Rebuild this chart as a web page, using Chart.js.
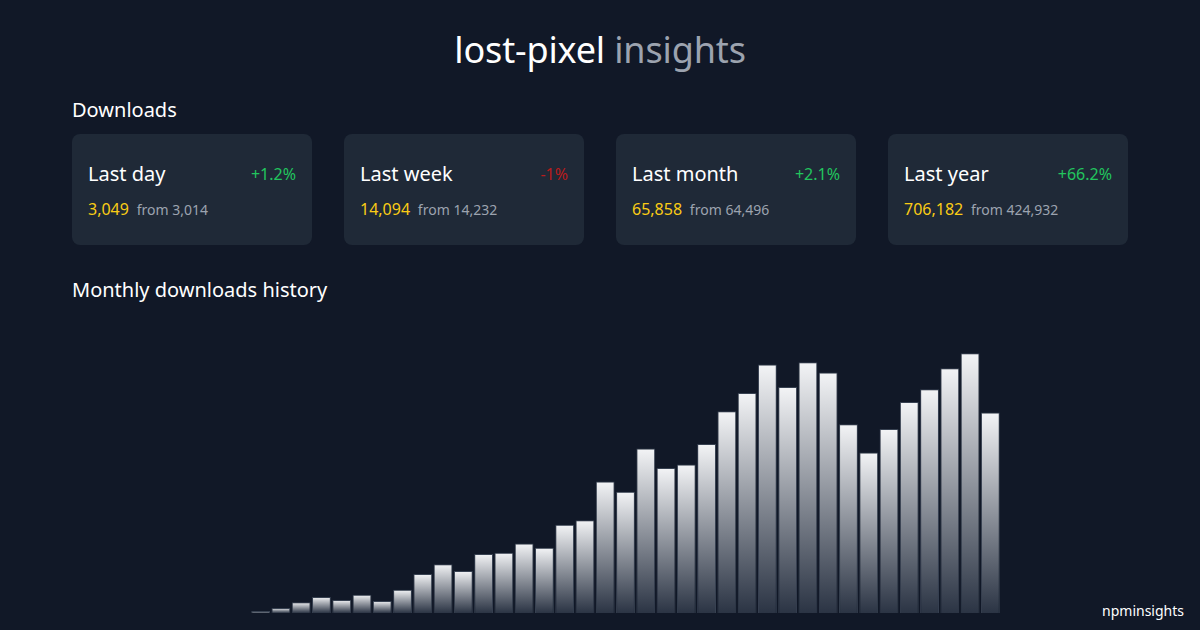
<!DOCTYPE html>
<html>
<head>
<meta charset="utf-8">
<script src="https://cdn.jsdelivr.net/npm/chart.js@4"></script>
<style>
  html, body { margin: 0; width: 1200px; height: 630px; overflow: hidden; background: #111827; font-family: "Noto Sans", sans-serif; color: #fff; }
  .abs { position: absolute; white-space: nowrap; }
  .title { left: 0; width: 1200px; top: 25px; text-align: center; font-size: 36px; line-height: 50px; letter-spacing: -0.15px; }
  .title span { color: #9ca3af; }
  .section { left: 72px; font-size: 20px; line-height: 28px; }
  .card { position: absolute; top: 134px; width: 240px; height: 111px; background: #1f2937; border-radius: 8px; }
  .card .name { position: absolute; left: 16px; top: 26px; font-size: 20px; line-height: 28px; }
  .card .pct { position: absolute; right: 16px; top: 29px; font-size: 16px; line-height: 22px; }
  .card .now { position: absolute; left: 16px; top: 64px; font-size: 16px; line-height: 22px; color: #facc15; }
  .card .prev { font-size: 14px; color: #9ca3af; }
  .up { color: #22c55e; }
  .down { color: #b91c1c; }
  #wrap { position: absolute; left: 250px; top: 339px; width: 751px; height: 274px; }
  .brand { right: 16px; top: 601px; font-size: 14px; line-height: 20px; }
</style>
</head>
<body>
<div class="abs title">lost-pixel <span>insights</span></div>
<div class="abs section" style="top:96px">Downloads</div>
<div id="cards"></div>
<div class="abs section" style="top:276px">Monthly downloads history</div>
<div id="wrap"><canvas id="historyChart"></canvas></div>
<div class="abs brand">npminsights</div>
<script>
  const cards = [
    { name: "Last day", pct: "+1.2%", now: "3,049", prev: "3,014", left: 72 },
    { name: "Last week", pct: "-1%", now: "14,094", prev: "14,232", left: 344 },
    { name: "Last month", pct: "+2.1%", now: "65,858", prev: "64,496", left: 616 },
    { name: "Last year", pct: "+66.2%", now: "706,182", prev: "424,932", left: 888 }
  ];
  document.getElementById("cards").innerHTML = cards.map(c => `
    <div class="card" style="left:${c.left}px">
      <div class="name">${c.name}</div>
      <div class="pct ${c.pct[0] === "+" ? "up" : "down"}">${c.pct}</div>
      <div class="now">${c.now} <span class="prev">&nbsp;from ${c.prev}</span></div>
    </div>`).join("");

  // Monthly downloads
  const monthly = [
    650, 1650, 3500, 5250, 4250, 6000, 3950, 7600, 12800, 16000,
    13800, 19400, 19800, 22800, 21400, 29000, 30500, 43200, 39800, 54000,
    47600, 48800, 55500, 66300, 72300, 81600, 74200, 82400, 79000, 62000,
    52700, 60400, 69300, 73500, 80400, 85300, 65858
  ];

  function barGradient(ctx) {
    const { chart, parsed } = ctx;
    if (!parsed || !chart.chartArea) return "#e5e7eb";
    const yScale = chart.scales.y;
    const g = chart.ctx.createLinearGradient(0, yScale.getPixelForValue(parsed.y), 0, yScale.bottom);
    g.addColorStop(0, "#f3f4f6");
    g.addColorStop(1, "#2b3444");
    return g;
  }

  new Chart(document.getElementById("historyChart"), {
    type: "bar",
    data: {
      labels: monthly.map((_, i) => i + 1),
      datasets: [{
        data: monthly,
        backgroundColor: barGradient,
        borderColor: "#374151",
        borderWidth: 1,
        barPercentage: 0.93,
        categoryPercentage: 1
      }]
    },
    options: {
      responsive: true,
      maintainAspectRatio: false,
      animation: false,
      layout: { padding: { left: 0.5, right: 0.5 } },
      plugins: { legend: { display: false }, tooltip: { enabled: false } },
      scales: {
        x: { display: false },
        y: { display: false, min: 0, max: 90000 }
      }
    }
  });
</script>
</body>
</html>
